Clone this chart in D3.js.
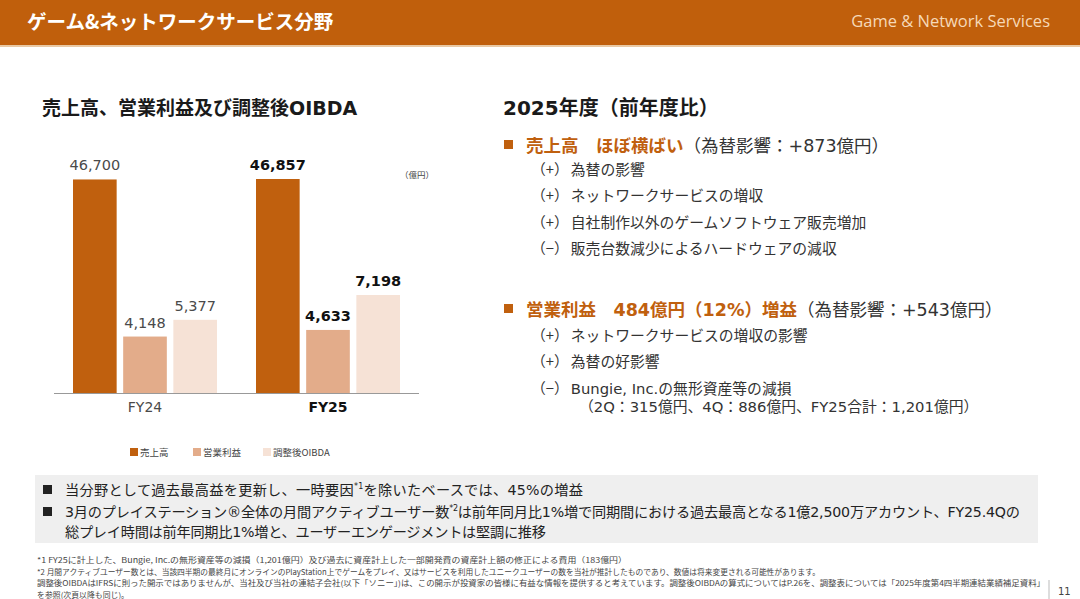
<!DOCTYPE html>
<html>
<head>
<meta charset="utf-8">
<script src="https://cdn.jsdelivr.net/npm/d3@7"></script>
<style>
  body { margin: 0; background: #fff; }
  svg { display: block; font-family: "DejaVu Sans", "Noto Sans CJK JP", sans-serif; }
  .jp { font-family: "Noto Sans CJK JP", sans-serif; }
</style>
</head>
<body>
<div id="target"></div>
<script>
var width = 1080, height = 599;

// data
var years = ['FY24', 'FY25'];
var seriesNames = ['売上高', '営業利益', '調整後OIBDA'];
var revenue = [46700, 46857];
var opIncome = [4148, 4633];
var oibda = [5377, 7198];
var seriesColors = ['#C0600E', '#E3AC8A', '#F6E2D6'];

var revenueLines = [
  ['（+）', '為替の影響'],
  ['（+）', 'ネットワークサービスの増収'],
  ['（+）', '自社制作以外のゲームソフトウェア販売増加'],
  ['（−）', '販売台数減少によるハードウェアの減収']
];
var incomeLines = [
  ['（+）', 'ネットワークサービスの増収の影響'],
  ['（+）', '為替の好影響'],
  ['（−）', 'Bungie, Inc.の無形資産等の減損']
];
var footnotes = [
  '*1  FY25に計上した、Bungie, Inc.の無形資産等の減損（1,201億円）及び過去に資産計上した一部開発費の資産計上額の修正による費用（183億円）',
  '*2  月間アクティブユーザー数とは、当該四半期の最終月にオンラインのPlayStation上でゲームをプレイ、又はサービスを利用したユニークユーザーの数を当社が推計したものであり、数値は将来変更される可能性があります。',
  '調整後OIBDAはIFRSに則った開示ではありませんが、当社及び当社の連結子会社(以下「ソニー」)は、この開示が投資家の皆様に有益な情報を提供すると考えています。調整後OIBDAの算式についてはP.26を、調整表については「2025年度第4四半期連結業績補足資料」',
  'を参照(次頁以降も同じ)。'
];
var footWidths = [590, 783, 1008, 92];

var svg = d3.select('#target').append('svg')
  .attr('width', width)
  .attr('height', height);

// header
svg.append('rect').attr('x', 0).attr('y', 0).attr('width', width).attr('height', 45).attr('fill', '#C05F0C');
svg.append('rect').attr('x', 0).attr('y', 45).attr('width', width).attr('height', 2).attr('fill', '#E9C9A4');
svg.append('text').attr('class', 'jp').attr('x', 27).attr('y', 29).attr('fill', '#fff')
  .attr('font-size', 19.5).attr('font-weight', 'bold').text('ゲーム&ネットワークサービス分野');
svg.append('text').attr('x', 1050).attr('y', 27).attr('text-anchor', 'end').attr('fill', '#F6D9B8')
  .attr('font-family', 'Open Sans').attr('font-size', 16.5).text('Game & Network Services');

// chart title
svg.append('text').attr('x', 42).attr('y', 115).attr('fill', '#1a1a1a')
  .attr('font-size', 19).attr('font-weight', 'bold').text('売上高、営業利益及び調整後OIBDA');

// chart
var baseline = 393;
var x0 = d3.scaleBand().domain(years).range([53.5, 419.5]).paddingInner(0).paddingOuter(0);
var x1 = d3.scaleBand().domain(seriesNames).range([0, 144]).paddingInner(0.13);
// revenue bars are drawn shortened, so the scale breaks above 7,200
var y = d3.scaleLinear().domain([0, 7200, 46857]).range([baseline, 295, 179]);

var groups = years.map(function (yr, i) {
  return {year: yr, bold: i === 1, values: [revenue[i], opIncome[i], oibda[i]]};
});

var g = svg.selectAll('g.grp').data(groups).enter().append('g')
  .attr('class', 'grp')
  .attr('transform', function (d) { return 'translate(' + (x0(d.year) + x0.bandwidth() / 2 - 72) + ',0)'; });

g.selectAll('rect').data(function (d) {
  return d.values.map(function (v, j) { return {v: v, s: seriesNames[j], c: seriesColors[j], bold: d.bold}; });
}).enter().append('rect')
  .attr('x', function (d) { return x1(d.s); })
  .attr('y', function (d) { return y(d.v); })
  .attr('width', x1.bandwidth())
  .attr('height', function (d) { return baseline - y(d.v); })
  .attr('fill', function (d) { return d.c; });

g.selectAll('text.val').data(function (d) {
  return d.values.map(function (v, j) { return {v: v, s: seriesNames[j], bold: d.bold}; });
}).enter().append('text')
  .attr('class', 'val')
  .attr('x', function (d) { return x1(d.s) + x1.bandwidth() / 2; })
  .attr('y', function (d) { return y(d.v) - 9; })
  .attr('text-anchor', 'middle')
  .attr('font-size', 14.5)
  .attr('font-weight', function (d) { return d.bold ? 'bold' : 'normal'; })
  .attr('fill', function (d) { return d.bold ? '#111' : '#4a4a4a'; })
  .text(function (d) { return d3.format(',')(d.v); });

svg.append('line').attr('x1', 54).attr('x2', 419).attr('y1', baseline + 0.5).attr('y2', baseline + 0.5)
  .attr('stroke', '#999').attr('stroke-width', 1.2);

var xAxis = d3.axisBottom(x0).tickSize(0).tickPadding(9);
var ax = svg.append('g').attr('transform', 'translate(0,' + baseline + ')').call(xAxis);
ax.select('.domain').remove();
ax.selectAll('text')
  .attr('font-family', 'DejaVu Sans')
  .attr('font-size', 14)
  .attr('fill', function (d, i) { return i === 1 ? '#111' : '#4a4a4a'; })
  .attr('font-weight', function (d, i) { return i === 1 ? 'bold' : 'normal'; });

svg.append('text').attr('class', 'jp').attr('x', 417).attr('y', 178).attr('text-anchor', 'middle')
  .attr('font-size', 8.5).attr('fill', '#444').text('（億円）');

// legend
var legendX = [130, 193, 263];
var lg = svg.selectAll('g.lg').data(seriesNames).enter().append('g')
  .attr('transform', function (d, i) { return 'translate(' + legendX[i] + ',452)'; });
lg.append('rect').attr('x', 0).attr('y', -4).attr('width', 8).attr('height', 8)
  .attr('fill', function (d, i) { return seriesColors[i]; });
lg.append('text').attr('class', 'jp').attr('x', 10).attr('y', 4).attr('font-size', 9.5).attr('fill', '#444').text(function (d) { return d; });

// right side text
svg.append('text').attr('x', 503).attr('y', 115).attr('fill', '#1a1a1a')
  .attr('font-size', 20).attr('font-weight', 'bold').text('2025年度（前年度比）');

function headline(yPos, hl, rest) {
  svg.append('rect').attr('x', 504).attr('y', yPos - 5).attr('width', 9).attr('height', 9).attr('fill', '#C0600E');
  var t = svg.append('text').attr('x', 526).attr('y', yPos + 6.5).attr('font-size', 17.5);
  t.append('tspan').attr('fill', '#C0600E').attr('font-weight', 'bold').text(hl);
  t.append('tspan').attr('fill', '#333').text(rest);
}
function subLines(list, y0, step) {
  list.forEach(function (d, i) {
    var t = svg.append('text').attr('x', 531).attr('y', y0 + i * step).attr('font-size', 14.8).attr('fill', '#333');
    t.append('tspan').attr('class', 'jp').text(d[0]);
    t.append('tspan').attr('dx', 2).text(d[1]);
  });
}

headline(145, '売上高　ほぼ横ばい', '（為替影響：+873億円）');
subLines(revenueLines, 174.5, 26.5);
headline(309, '営業利益　484億円（12%）増益', '（為替影響：+543億円）');
subLines(incomeLines, 340.5, 26.5);
svg.append('text').attr('x', 579).attr('y', 412).attr('font-size', 14.8).attr('fill', '#333')
  .text('（2Q：315億円、4Q：886億円、FY25合計：1,201億円）');

// bottom box
svg.append('rect').attr('x', 35).attr('y', 475).attr('width', 1003).attr('height', 68).attr('fill', '#EFEFEF');
function boxLine(yPos, parts, bullet, len) {
  if (bullet) {
    svg.append('rect').attr('x', 43).attr('y', yPos - 10).attr('width', 9).attr('height', 9).attr('fill', '#222');
  }
  var t = svg.append('text').attr('x', 65).attr('y', yPos).attr('font-size', 14.2).attr('fill', '#222')
    .attr('textLength', len).attr('lengthAdjust', 'spacing');
  var shift = 0;
  parts.forEach(function (p) {
    if (p.sup) {
      t.append('tspan').attr('dy', -6).attr('font-size', 8).text(p.t);
      shift = 6;
    } else {
      t.append('tspan').attr('dy', shift).text(p.t);
      shift = 0;
    }
  });
}
boxLine(495, [{t: '当分野として過去最高益を更新し、一時要因'}, {t: '*1', sup: true}, {t: 'を除いたベースでは、45%の増益'}], true, 518);
boxLine(517, [{t: '3月のプレイステーション®全体の月間アクティブユーザー数'}, {t: '*2', sup: true},
  {t: 'は前年同月比1%増で同期間における過去最高となる1億2,500万アカウント、FY25.4Qの'}], true, 955);
boxLine(537, [{t: '総プレイ時間は前年同期比1%増と、ユーザーエンゲージメントは堅調に推移'}], false, 481);

// footnotes
svg.selectAll('text.fn').data(footnotes).enter().append('text')
  .attr('class', 'fn jp')
  .attr('x', 37)
  .attr('y', function (d, i) { return 563 + i * 11.5; })
  .attr('font-size', 7.8)
  .attr('fill', '#444')
  .attr('textLength', function (d, i) { return footWidths[i]; })
  .attr('lengthAdjust', 'spacingAndGlyphs')
  .text(function (d) { return d; });

// page number
svg.append('line').attr('x1', 1049).attr('x2', 1049).attr('y1', 580).attr('y2', 599).attr('stroke', '#bbb');
svg.append('text').attr('x', 1058).attr('y', 595).attr('font-size', 10).attr('fill', '#444')
  .text('11');
</script>
</body>
</html>
